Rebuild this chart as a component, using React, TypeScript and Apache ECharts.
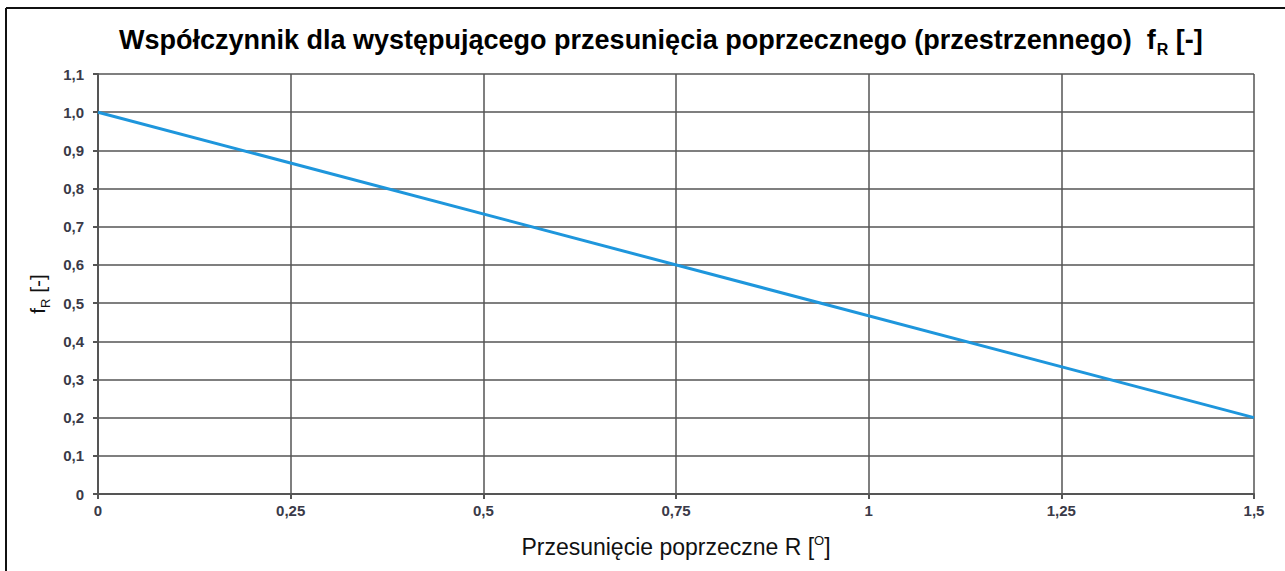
import React, { useEffect, useRef } from "react";
import * as echarts from "echarts";

const xValues = [0, 1.5];
const yValues = [1.0, 0.2];
const xTickValues = [0, 0.25, 0.5, 0.75, 1, 1.25, 1.5];
const xTickLabels = ["0", "0,25", "0,5", "0,75", "1", "1,25", "1,5"];
const yTickValues = [0, 0.1, 0.2, 0.3, 0.4, 0.5, 0.6, 0.7, 0.8, 0.9, 1.0, 1.1];
const yTickLabels = ["0", "0,1", "0,2", "0,3", "0,4", "0,5", "0,6", "0,7", "0,8", "0,9", "1,0", "1,1"];

function labelFor(v: number, vals: number[], labels: string[]) {
  for (let i = 0; i < vals.length; i++) {
    if (Math.abs(vals[i] - v) < 1e-6) return labels[i];
  }
  return "";
}

export default function App() {
  const ref = useRef<HTMLDivElement>(null);
  useEffect(() => {
    if (!ref.current) return;
    const chart = echarts.init(ref.current, null, { renderer: "svg" });
    const font = "'Liberation Sans', Arial, sans-serif";
    chart.setOption({
      animation: false,
      backgroundColor: "#ffffff",
      title: {
        text: "{t|Współczynnik dla występującego przesunięcia poprzecznego (przestrzennego)  f}{s|R}{t| [-]}",
        left: 114,
        top: 21,
        textStyle: {
          rich: {
            t: { fontFamily: font, fontWeight: "bold", fontSize: 27, color: "#000", verticalAlign: "bottom" },
            s: { fontFamily: font, fontWeight: "bold", fontSize: 16, color: "#000", verticalAlign: "bottom", padding: [0, 0, -4, 1] },
          },
        },
      },
      graphic: [
        { type: "line", shape: { x1: 6, y1: 8, x2: 1285, y2: 8 }, style: { stroke: "#111", lineWidth: 2 } },
        { type: "line", shape: { x1: 6, y1: 8, x2: 6, y2: 571 }, style: { stroke: "#111", lineWidth: 2 } },
      ],
      grid: { left: 98, right: 31, top: 74, bottom: 77 },
      xAxis: {
        type: "value",
        min: 0,
        max: 1.5,
        interval: 0.25,
        name: "{t|Przesunięcie poprzeczne R [}{s|O}{t|]}",
        nameLocation: "middle",
        nameGap: 40,
        nameTextStyle: {
          rich: {
            t: { fontFamily: font, fontSize: 23, color: "#111", verticalAlign: "bottom" },
            s: { fontFamily: font, fontSize: 13, color: "#111", verticalAlign: "bottom", padding: [0, 0, 11, 0] },
          },
        },
        axisLine: { show: true, lineStyle: { color: "#555", width: 2 } },
        axisTick: { show: true, length: 5, lineStyle: { color: "#555", width: 2 } },
        splitLine: { show: true, lineStyle: { color: "#555", width: 1.5 } },
        axisLabel: {
          margin: 9,
          fontFamily: font,
          fontSize: 15,
          fontWeight: "bold",
          color: "#3a3a48",
          formatter: (v: number) => labelFor(v, xTickValues, xTickLabels),
        },
      },
      yAxis: {
        type: "value",
        min: 0,
        max: 1.1,
        interval: 0.1,
        name: "{t|f}{s|R}{t| [-]}",
        nameLocation: "middle",
        nameRotate: 90,
        nameGap: 43,
        nameTextStyle: {
          padding: [0, 20, 0, 0],
          rich: {
            t: { fontFamily: font, fontSize: 21, color: "#111", verticalAlign: "bottom" },
            s: { fontFamily: font, fontSize: 13, color: "#111", verticalAlign: "bottom", padding: [0, 0, -4, 0] },
          },
        },
        axisLine: { show: true, lineStyle: { color: "#555", width: 2 } },
        axisTick: { show: true, length: 5, lineStyle: { color: "#555", width: 2 } },
        splitLine: { show: true, lineStyle: { color: "#555", width: 1.5 } },
        axisLabel: {
          margin: 14,
          fontFamily: font,
          fontSize: 15,
          fontWeight: "bold",
          color: "#3a3a48",
          formatter: (v: number) => labelFor(v, yTickValues, yTickLabels),
        },
      },
      series: [
        {
          type: "line",
          data: xValues.map((x, i) => [x, yValues[i]]),
          showSymbol: false,
          symbol: "none",
          lineStyle: { color: "#1E96DC", width: 3 },
        },
      ],
    });
    return () => chart.dispose();
  }, []);
  return <div ref={ref} style={{ width: 1285, height: 571, position: "fixed", left: 0, top: 0 }} />;
}
